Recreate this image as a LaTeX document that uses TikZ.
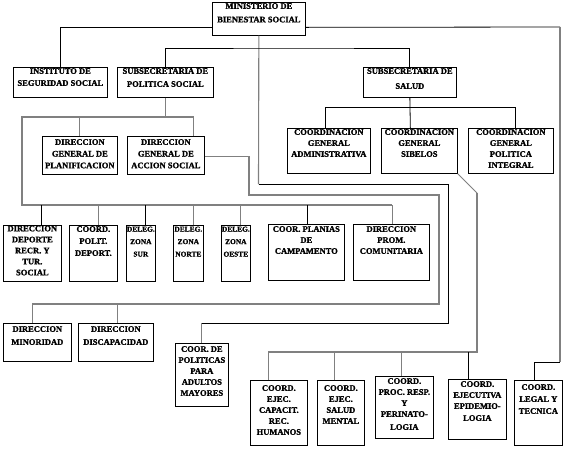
\documentclass[tikz,border=0pt]{standalone}
\usepackage{fontspec}
\setmainfont{Liberation Serif}[BoldFeatures={FakeBold=1.2}]
\usetikzlibrary{calc}
\tikzset{
  box/.style={draw=black, line width=0.7pt, inner sep=0pt, fill=white},
  txt/.style={inner sep=0pt, align=center, font=\fontsize{8.5}{11}\selectfont\bfseries},
  sml/.style={font=\fontsize{7.4}{12.5}\selectfont\bfseries},
  ln/.style={draw=black, line width=0.8pt},
  gl/.style={draw=black!50, line width=1.1pt},
}
\newcommand\bx[7][]{%
  \node[box, minimum width={(#5-#3)*1pt}, minimum height={(#6-#4)*1pt}, anchor=north west] (#2) at (#3,#4) {};
  \node[txt, anchor=north, #1] (#2t) at (#2.north) {#7};}
\begin{document}
\begin{tikzpicture}[x=1pt,y=-1pt]
\useasboundingbox (0,0) rectangle (565,448);
\fill[white] (0,0) rectangle (565,448);
% boxes
\bx[yshift=-1pt]{min}{212}{2}{305}{35}{MINISTERIO DE\\[2.5pt]BIENESTAR SOCIAL}
\bx[yshift=-1pt]{inst}{13}{67}{107}{97}{INSTITUTO DE\\[1pt]SEGURIDAD SOCIAL}
\bx[yshift=-1pt]{sps}{117}{67}{213}{97}{SUBSECRETARIA DE\\[2pt]POLITICA SOCIAL}
\bx[yshift=-1pt]{ss}{363}{67}{456}{97}{SUBSECRETARIA DE\\[4pt]SALUD}
\bx[yshift=-1pt]{adm}{287}{128}{370}{173}{COORDINACION\\GENERAL\\ADMINISTRATIVA}
\bx[yshift=-1pt]{sib}{381}{128}{457}{173}{COORDINACION\\GENERAL\\SIBELOS}
\bx[yshift=-1pt]{pol}{468}{128}{553}{173}{COORDINACION\\GENERAL\\POLITICA\\INTEGRAL}
\bx[yshift=-3pt]{plan}{42}{136}{117}{174}{DIRECCION\\[0.7pt]GENERAL DE\\[0.7pt]PLANIFICACION}
\bx[yshift=-3pt]{acc}{127}{136}{204}{174}{DIRECCION\\[0.7pt]GENERAL DE\\[0.7pt]ACCION SOCIAL}
\bx[yshift=-0.5pt]{dep}{3}{225}{61}{281}{DIRECCION\\DEPORTE\\RECR. Y\\TUR.\\SOCIAL}
\bx[yshift=-1pt]{cpd}{69}{225}{117}{281}{COORD.\\[1pt]POLIT.\\[1pt]DEPORT.}
\bx[sml,yshift=-1.5pt]{sur}{126}{225}{155}{281}{DELEG.\\ZONA\\SUR}
\bx[sml,yshift=-1.5pt]{nor}{173}{225}{203}{281}{DELEG.\\ZONA\\NORTE}
\bx[sml,yshift=-1.5pt]{oes}{221}{225}{250}{281}{DELEG.\\ZONA\\OESTE}
\bx[yshift=-2pt]{pla}{268}{224}{344}{280}{COOR. PLANIAS\\DE\\CAMPAMENTO}
\bx[yshift=-2pt]{prom}{353}{224}{429}{280}{DIRECCION\\PROM.\\COMUNITARIA}
\bx[yshift=-3pt]{minr}{3}{323}{71}{361}{DIRECCION\\[2pt]MINORIDAD}
\bx[yshift=-3pt]{disc}{78}{323}{153}{361}{DIRECCION\\[2pt]DISCAPACIDAD}
\bx[yshift=-3pt]{adul}{175}{343}{228}{406}{COOR. DE\\POLITICAS\\PARA\\ADULTOS\\MAYORES}
\bx[yshift=-5pt]{cap}{250}{380}{307}{445}{COORD.\\EJEC.\\CAPACIT.\\REC.\\HUMANOS}
\bx[yshift=-5pt]{salm}{317}{380}{364}{445}{COORD.\\EJEC.\\SALUD\\MENTAL}
\bx[yshift=-2pt]{proc}{375}{376}{433}{438}{COORD.\\PROC. RESP.\\Y\\PERINATO-\\[2pt]LOGIA}
\bx[yshift=-2pt]{epi}{448}{379}{506}{439}{COORD.\\EJECUTIVA\\EPIDEMIO-\\[1pt]LOGIA}
\bx[yshift=-4pt]{legal}{514}{380}{562}{445}{COORD.\\[1pt]LEGAL Y\\[1pt]TECNICA}
% ministerio connectors
\draw[ln] ([yshift=-8.5pt]min.west) -| (inst.north);
\coordinate (r0) at (560,27);
\coordinate (r1) at (560,362);
\draw[ln] ([yshift=-8.5pt]min.east) -- (r0);
\draw[gl] (r0) -- (r1);
\draw[ln] ([xshift=-4pt]legal.north) |- (r1);
\coordinate (m0) at (258.5,184);
\coordinate (m1) at (448,323);
\draw[gl] (min.south) -- (m0);
\draw[ln] (m0) -| (m1) -- (adul.north |- m1);
\draw[gl] (adul.north) -- (adul.north |- m1);
% subsecretarias
\coordinate (j0) at (300,48);
\draw[ln] (sps.north) |- (j0) -| (ss.north);
% salud
\draw[ln] (ss.south) -- ([xshift=-9pt]sib.north);
\draw[ln] ([xshift=-3.5pt]adm.north) -- ++(0,-21) -| ([xshift=4.5pt]pol.north);
% politica social
\coordinate (b0) at (22,205);
\draw[gl] (sps.south) -- ++(0,20);
\draw[gl] (plan.north) -- ++(0,-19);
\draw[gl] ([xshift=27.5pt]acc.north) -- ++(0,-19) -| (b0) -- ([xshift=1pt]prom.north |- b0);
\draw[ln] ([xshift=9pt]dep.north) -- ([xshift=9pt]dep.north |- b0);
\draw[gl] ([xshift=5pt]cpd.north) -- ([xshift=5pt]cpd.north |- b0);
\draw[ln] ([xshift=4.5pt]sur.north) -- ([xshift=4.5pt]sur.north |- b0);
\draw[gl] ([xshift=5pt]nor.north) -- ([xshift=5pt]nor.north |- b0);
\draw[gl] ([xshift=4.5pt]oes.north) -- ([xshift=4.5pt]oes.north |- b0);
\draw[ln] ([xshift=1pt]pla.north) -- ([xshift=1pt]pla.north |- b0);
\draw[gl] ([xshift=1pt]prom.north) -- ([xshift=1pt]prom.north |- b0);
% accion social
\coordinate (a1) at (249,195);
\coordinate (a2) at (439,304);
\draw[gl] ([yshift=-1pt]acc.east) -| (a1) -| (a2) -| ([xshift=-5pt]minr.north);
\draw[gl] ([xshift=1.5pt]disc.north) -- ++(0,-19);
% sibelos
\coordinate (s1) at (477,193);
\coordinate (s2) at (477,352);
\draw[gl, line width=0.8pt] (sib.south east) -- (s1);
\draw[gl] (s1) -- (s2) -| ([xshift=-10.5pt]cap.north);
\draw[gl] ([xshift=-6.5pt]salm.north) -- ++(0,-28);
\draw[gl] ([xshift=-3pt]proc.north) -- ++(0,-24);
\draw[ln] ([xshift=-9pt]epi.north) -- ++(0,-27);
\end{tikzpicture}
\end{document}
